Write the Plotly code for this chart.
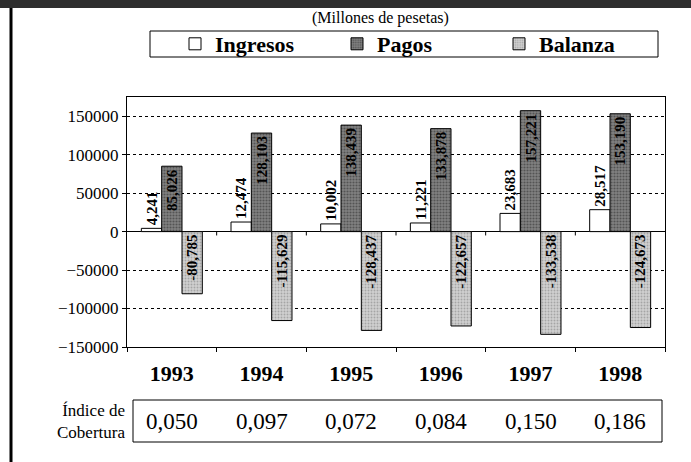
import plotly.graph_objects as go

# Millones de pesetas
years = ["1993", "1994", "1995", "1996", "1997", "1998"]
ingresos = [4241, 12474, 10002, 11221, 23683, 28517]
pagos = [85026, 128103, 138439, 133878, 157221, 153190]
balanza = [-80785, -115629, -128437, -122657, -133538, -124673]
cobertura = ["0,050", "0,097", "0,072", "0,084", "0,150", "0,186"]

W, H = 691, 462
L, R, T, B = 127, 26, 97, 115
PW, PH = W - L - R, H - T - B


def px(x):
    return (x - L) / PW


def py(y):
    return (T + PH - y) / PH


serif = "Liberation Serif"
label_font = dict(family=serif, size=15, color="black", weight="bold")

fig = go.Figure()
fig.add_trace(go.Bar(
    x=years, y=ingresos, name="Ingresos",
    marker=dict(color="white", line=dict(color="black", width=1)),
    texttemplate="%{y:,}", textposition="outside", textangle=-90,
    outsidetextfont=label_font, constraintext="none", cliponaxis=False,
))
fig.add_trace(go.Bar(
    x=years, y=pagos, name="Pagos",
    marker=dict(color="#787878", line=dict(color="black", width=1),
                pattern=dict(shape=".", fgcolor="#262626", bgcolor="#828282",
                             size=3, solidity=0.4)),
    texttemplate="%{y:,}", textposition="inside", insidetextanchor="end",
    textangle=-90, insidetextfont=label_font, constraintext="none",
))
fig.add_trace(go.Bar(
    x=years, y=balanza, name="Balanza",
    marker=dict(color="#c4c4c4", line=dict(color="black", width=1),
                pattern=dict(shape=".", fgcolor="#7a7a7a", bgcolor="#d0d0d0",
                             size=3, solidity=0.3)),
    texttemplate="%{y:,}", textposition="inside", insidetextanchor="start",
    textangle=-90, insidetextfont=label_font, constraintext="none",
))

n = len(years)
shapes = [
    # top dark band and left frame line
    dict(type="rect", xref="paper", yref="paper", x0=px(0), x1=px(W), y0=py(0), y1=py(8),
         fillcolor="#2e2e2e", line=dict(width=0), layer="above"),
    dict(type="line", xref="paper", yref="paper", x0=px(11), x1=px(11), y0=py(8), y1=py(H),
         line=dict(color="black", width=3)),
    # legend frame
    dict(type="rect", xref="paper", yref="paper", x0=px(150), x1=px(658), y0=py(31), y1=py(57),
         line=dict(color="black", width=1)),
    # cobertura box
    dict(type="rect", xref="paper", yref="paper", x0=px(133), x1=px(662), y0=py(400), y1=py(442),
         line=dict(color="black", width=1)),
]
# category tick marks on the zero line
for i in range(1, n):
    shapes.append(dict(type="line", xref="x domain", yref="y", x0=i / n, x1=i / n,
                       y0=0, y1=-5000, line=dict(color="black", width=1)))

annotations = [
    dict(text="(Millones de pesetas)", xref="paper", yref="paper", x=px(380), y=py(18),
         xanchor="center", yanchor="middle", showarrow=False,
         font=dict(family=serif, size=16, color="black")),
    dict(text="Índice de<br>Cobertura", xref="paper", yref="paper", x=px(127), y=py(421),
         xanchor="right", yanchor="middle", align="right", showarrow=False,
         font=dict(family=serif, size=17, color="black")),
]
for i, c in enumerate(cobertura):
    annotations.append(dict(text=c, xref="paper", yref="paper", x=(i + 0.5) / n, y=py(421),
                            xanchor="center", yanchor="middle", showarrow=False,
                            font=dict(family=serif, size=23, color="black")))

fig.update_layout(
    width=W, height=H,
    margin=dict(l=L, r=R, t=T, b=B, autoexpand=False),
    paper_bgcolor="white", plot_bgcolor="white",
    barmode="group", bargap=0.32, bargroupgap=0,
    showlegend=True,
    legend=dict(orientation="h", x=px(175), y=py(44), xanchor="left", yanchor="middle",
                borderwidth=0, bgcolor="rgba(0,0,0,0)",
                entrywidth=117, indentation=0,
                font=dict(family=serif, size=22, color="black", weight="bold")),
    xaxis=dict(type="category", showline=True, linecolor="black", mirror=True,
               ticks="outside", ticklen=4, tickcolor="black", tickson="boundaries",
               showgrid=False, ticklabelstandoff=7, tickangle=0,
               tickfont=dict(family=serif, size=22, color="black", weight="bold")),
    yaxis=dict(range=[-150000, 175000], dtick=50000, tickformat="d",
               showline=True, linecolor="black", mirror=True,
               ticks="outside", ticklen=4, tickcolor="black",
               showgrid=True, gridcolor="black", gridwidth=1, griddash="3px,3px",
               zeroline=True, zerolinecolor="black", zerolinewidth=1,
               tickfont=dict(family=serif, size=17, color="black")),
    shapes=shapes,
    annotations=annotations,
)

# page body has an 8px default margin; remove it so the figure fills the window
fig.write_html("out.html", config={"displayModeBar": False},
               post_script="document.body.style.margin = '0'; "
                           "document.body.style.overflow = 'hidden'; "
                           "document.documentElement.style.overflow = 'hidden';")
